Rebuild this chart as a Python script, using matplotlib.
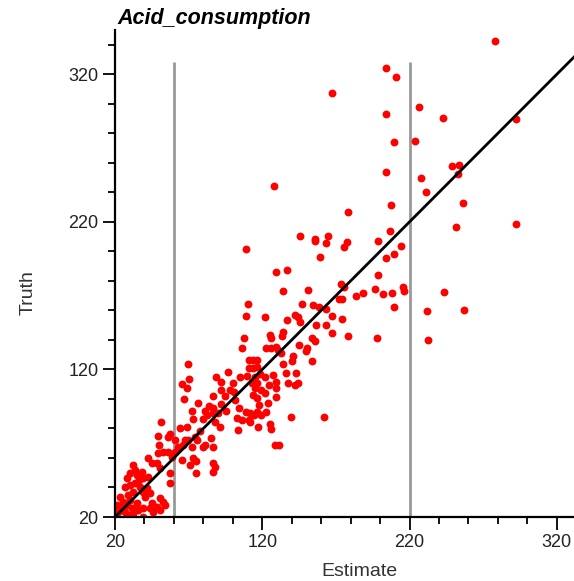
import matplotlib
matplotlib.use("Agg")
import matplotlib.pyplot as plt
from matplotlib.ticker import MultipleLocator
import numpy as np

plt.rcParams['font.family'] = ['Liberation Sans', 'DejaVu Sans']

# estimated vs. true acid consumption
estimate = [
    278.1, 204.2, 210.5, 167.3, 203.7, 226.1, 242.6, 292.3, 209.3, 223.6,
    204.2, 227.7, 248.9, 253.4, 253.2,
    127.8, 108.8, 145.4, 155.6, 155.6, 164.6, 163.3, 159.4,
    231.5, 178.4, 207.1, 256.6, 251.6, 292.1, 206.6, 198.5, 177.5, 175.3,
    214.3, 209.6, 204.2,
    129.6, 137.1, 134.1, 151.1, 110.0, 108.8, 121.9, 147.2, 154.5, 158.5,
    163.5, 142.5, 144.3, 145.4, 137.1, 156.7, 163.1, 153.6, 155.6, 144.8,
    150.4, 134.1, 133.5, 125.5, 126.0, 107.7, 105.9, 122.2, 126.2, 129.0,
    130.5, 150.0, 154.0, 140.9, 140.0, 142.7,
    198.5, 173.2, 175.3, 172.3, 174.4, 183.4, 188.3, 196.3, 201.9, 208.2,
    215.3, 215.9, 209.6, 231.9, 243.3, 257.3, 232.6, 167.6, 174.4, 167.6,
    178.2, 197.6,
    69.7, 65.2, 70.2, 69.0, 66.8, 76.5, 72.0, 81.0, 82.2, 73.1,
    79.9, 86.7, 88.9, 92.3, 92.3, 92.3, 94.6, 86.7, 86.7, 90.1,
    87.8, 91.2, 100.2, 105.2, 100.9, 101.4, 102.5, 103.6, 105.9, 111.1,
    113.8, 116.5, 110.9, 113.8, 116.5, 109.7, 114.9, 118.3, 113.3, 116.5,
    114.9, 119.0, 113.8, 116.5, 108.8, 111.5, 114.2, 110.9, 116.5, 111.5,
    117.2, 119.0, 122.1, 124.4, 121.7, 124.0, 122.4, 125.1, 126.2, 127.3,
    129.6, 129.6, 129.2, 133.0, 134.1, 136.4, 137.5, 128.8, 131.5, 60.7,
    62.9, 67.5, 66.3, 69.7, 72.0, 74.2, 75.4, 81.0, 84.9, 86.7,
    79.9, 58.4, 60.7, 65.2, 73.1, 74.9, 86.7, 87.8, 70.8, 86.7,
    68.6,
    51.2, 49.4, 56.2, 57.3, 49.8, 52.8, 56.2, 49.4, 42.6, 44.9,
    48.3, 50.5, 32.4, 33.6, 30.2, 34.7, 38.1, 39.2, 42.6, 27.9,
    30.2, 26.8, 33.6, 37.0, 32.4, 39.2, 41.5, 43.7, 40.3, 57.3,
    57.3, 50.5, 52.8, 53.9, 48.3, 50.5, 44.9, 43.7, 39.2, 46.0,
    23.4, 25.6, 21.1, 24.5, 27.9, 30.2, 31.3, 26.8, 22.3, 32.4,
    34.7, 35.8, 30.2, 32.4, 20.0, 39.2, 74.9,
    142.0, 144.3, 139.3, 161.9,
    95.5, 98.0, 78.0, 83.5, 64.0, 104.0, 118.0, 97.0, 36.0, 28.5,
]
truth = [
    342.3, 324.5, 318.1, 307.3, 293.3, 297.8, 290.6, 289.5, 274.4, 274.8,
    253.6, 250.0, 257.6, 258.3, 252.7,
    244.1, 201.3, 210.2, 208.6, 207.0, 210.2, 205.5, 196.4,
    240.3, 226.5, 231.2, 232.8, 216.3, 218.4, 213.9, 206.9, 206.2, 202.8,
    203.7, 198.3, 195.4,
    185.9, 187.7, 173.0, 173.5, 164.0, 156.5, 155.2, 164.2, 163.8, 162.4,
    160.8, 156.8, 155.6, 152.2, 153.4, 150.4, 150.4, 141.6, 139.4, 136.5,
    134.2, 145.5, 142.8, 143.2, 141.6, 141.0, 134.2, 134.2, 134.2, 135.3,
    133.1, 132.6, 125.6, 129.2, 125.4, 117.3,
    184.3, 177.8, 176.0, 167.4, 167.4, 169.8, 171.7, 174.4, 171.2, 172.1,
    175.7, 173.2, 162.4, 159.7, 172.3, 160.6, 139.8, 156.3, 154.1, 144.4,
    142.8, 141.2,
    124.0, 109.8, 113.4, 107.6, 99.9, 97.0, 91.8, 91.8, 88.8, 86.3,
    86.3, 102.1, 114.6, 111.6, 106.0, 96.3, 102.1, 94.0, 90.2, 90.2,
    84.5, 81.2, 110.5, 115.0, 104.4, 99.2, 86.8, 78.9, 85.7, 126.3,
    126.3, 126.3, 120.7, 120.7, 121.8, 115.7, 115.0, 116.8, 110.5, 110.5,
    107.1, 106.0, 102.6, 100.4, 90.9, 90.2, 89.1, 85.7, 91.3, 84.5,
    80.7, 89.1, 115.0, 109.4, 103.7, 97.0, 91.3, 82.7, 79.6, 116.1,
    111.6, 107.1, 101.5, 130.8, 124.0, 117.3, 110.5, 68.8, 68.8, 72.1,
    67.6, 72.1, 68.8, 72.1, 67.6, 74.4, 72.1, 68.8, 73.3, 67.6,
    67.6, 60.9, 64.2, 58.6, 59.7, 57.9, 56.3, 54.1, 55.2, 50.6,
    81.2,
    84.5, 74.8, 74.4, 76.0, 68.7, 64.2, 64.2, 63.1, 60.2, 56.8,
    56.3, 53.0, 55.2, 51.8, 49.6, 48.4, 50.7, 46.2, 47.3, 46.2,
    41.7, 40.5, 42.8, 40.5, 37.1, 37.1, 39.4, 36.0, 33.8, 49.6,
    42.8, 32.6, 30.4, 28.1, 27.0, 24.7, 29.2, 25.9, 25.9, 23.6,
    33.8, 30.4, 28.1, 27.0, 28.1, 31.5, 25.9, 23.6, 23.6, 22.5,
    29.2, 24.7, 21.4, 20.2, 20.2, 20.2, 49.6,
    109.4, 110.9, 87.5, 87.5,
    92.0, 106.0, 78.0, 95.0, 80.0, 94.0, 96.0, 118.0, 45.0, 35.0,
]
cutoffs = [60, 220]
cutoff_top = 328
ticks = [20, 120, 220, 320]

fig = plt.figure(figsize=(5.74, 5.81), dpi=100)
# axes run 20..350 on both sides; the right part falls off the canvas
ax = fig.add_axes([115 / 574, 64 / 581, 486 / 574, 487 / 581])
ax.set_xlim(20, 350)
ax.set_ylim(20, 350)

ax.vlines(cutoffs, 20, cutoff_top, colors='#999999', lw=2, zorder=1)
ax.scatter(estimate, truth, s=32, c='#ff0000', linewidths=0, zorder=2)
ax.plot([20, 350], [20, 350], color='black', lw=2, zorder=3, solid_capstyle='butt')

for side in ['top', 'right']:
    ax.spines[side].set_visible(False)
for side in ['left', 'bottom']:
    ax.spines[side].set_linewidth(1.6)

ax.set_xticks(ticks)
ax.set_yticks(ticks)
ax.xaxis.set_minor_locator(MultipleLocator(20))
ax.yaxis.set_minor_locator(MultipleLocator(20))
ax.tick_params(which='major', length=9, width=1.3, direction='out',
               labelsize=13, labelcolor='#222222', pad=3)
ax.tick_params(which='minor', length=5, width=1.3, direction='out')

fig.text(359 / 574, 1 - 571 / 581, 'Estimate', fontsize=14, color='#333333',
         ha='center', va='center')
fig.text(28 / 574, 1 - 293 / 581, 'Truth', fontsize=14, color='#333333',
         ha='center', va='center', rotation=90)

fig.text(117 / 574, 1 - 24 / 581, 'Acid_consumption', fontsize=15.5,
         fontweight='bold', fontstyle='italic', ha='left', va='baseline')

fig.savefig('out.png', dpi=100)
